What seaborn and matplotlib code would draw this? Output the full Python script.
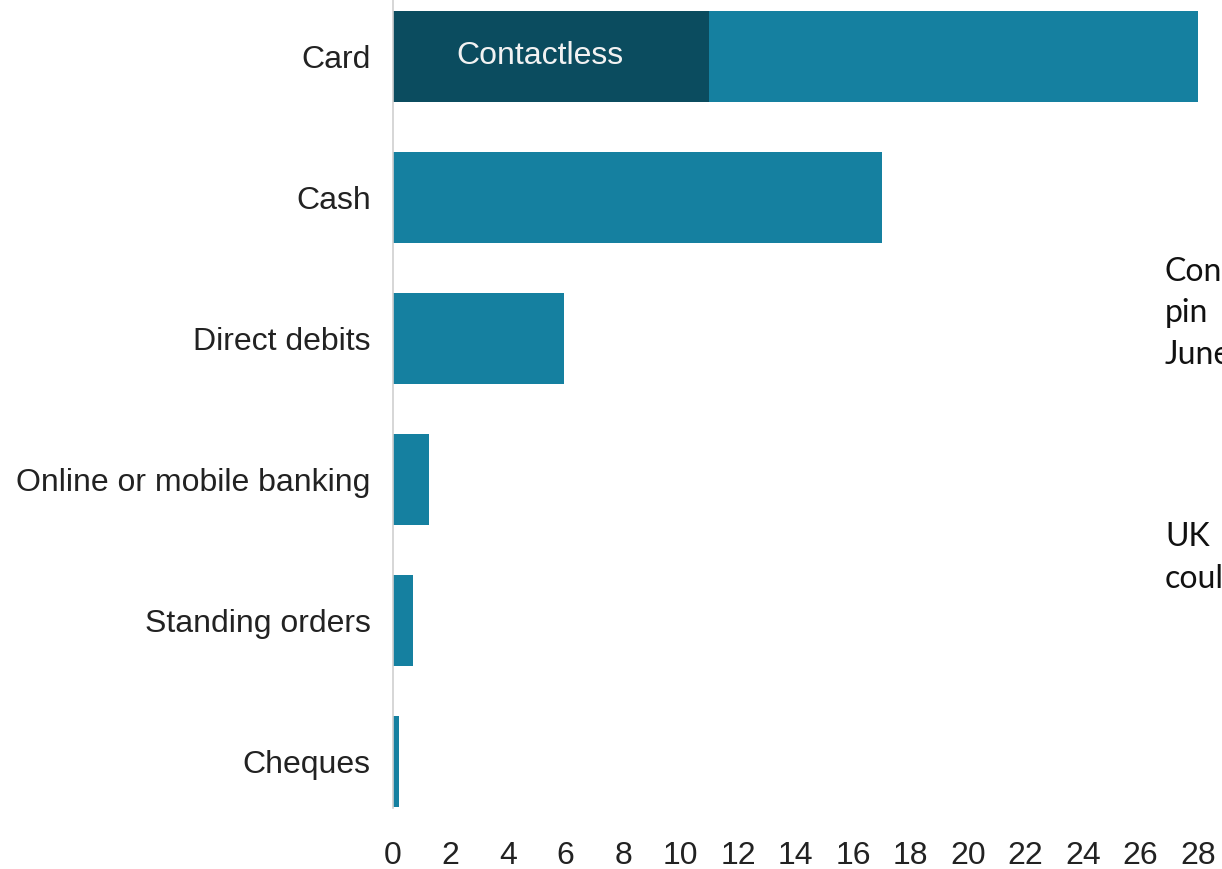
import matplotlib
matplotlib.use("Agg")
import matplotlib.pyplot as plt
import pandas as pd
import seaborn as sns

# payments per method
methods = ["Card", "Cash", "Direct debits", "Online or mobile banking",
           "Standing orders", "Cheques"]
totals = [28.0, 17.0, 5.95, 1.25, 0.7, 0.2]
contactless = [11.0, 0, 0, 0, 0, 0]
x_ticks = list(range(0, 29, 2))

side_lines = ["Contactless", "pin", "June", "UK", "could"]

main_col = "#1580A0"
dark_col = "#0B4C5F"

df = pd.DataFrame({"method": methods, "total": totals, "contactless": contactless})

sns.set_style("white")
plt.rcParams["font.family"] = ["Liberation Sans Narrow", "Liberation Sans", "DejaVu Sans"]

fig = plt.figure(figsize=(12.22, 8.69), dpi=100)
ax = fig.add_axes([0.3216, 0.0702, 0.6588, 0.9298])

sns.barplot(data=df, x="total", y="method", orient="h", color=main_col,
            width=0.65, saturation=1, linewidth=0, ax=ax)
sns.barplot(data=df, x="contactless", y="method", orient="h", color=dark_col,
            width=0.65, saturation=1, linewidth=0, ax=ax)

ax.text(5.1, 0, "Contactless", color="#f2f2f2", fontsize=23,
        ha="center", va="center")

ax.set_xlim(0, 28)
ax.set_ylim(5.33, -0.4)
ax.set_xticks(x_ticks)
ax.set_xlabel("")
ax.set_ylabel("")
ax.tick_params(axis="x", length=0, pad=24, labelsize=23, labelcolor="#222222")
ax.tick_params(axis="y", length=0, pad=16, labelsize=23, labelcolor="#222222")
for s in ["top", "right", "bottom"]:
    ax.spines[s].set_visible(False)
ax.spines["left"].set_color("#d0d0d0")
ax.spines["left"].set_linewidth(1.2)

# side note text, clipped by the figure edge like in the source
baselines = [281, 322, 364, 546, 588]
for txt, yb in zip(side_lines, baselines):
    fig.text(1165 / 1222, 1 - yb / 869, txt, fontsize=23, family="Lato",
             color="#111111", va="baseline", ha="left")

fig.savefig("out.png", dpi=100)
